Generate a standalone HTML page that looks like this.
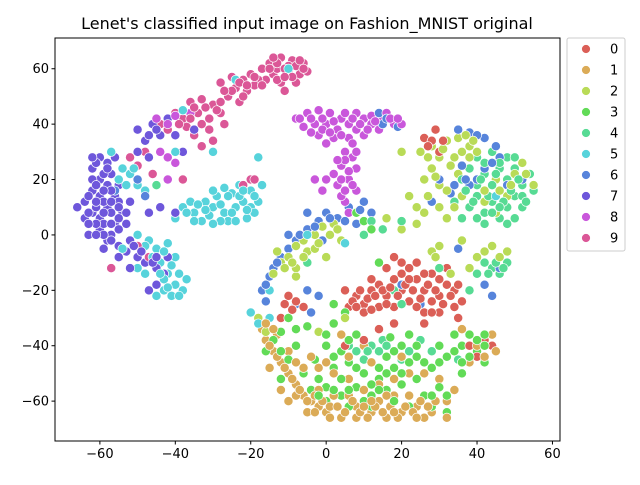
<!DOCTYPE html>
<html><head><meta charset="utf-8"><style>
html,body{margin:0;padding:0;background:#fff;}
svg text{font-family:"DejaVu Sans","Liberation Sans",sans-serif;fill:#000;}
</style></head><body>
<svg id="chart" width="640" height="480" xmlns="http://www.w3.org/2000/svg">
<rect width="640" height="480" fill="#fff"/>
<text x="307" y="29" text-anchor="middle" font-size="16">Lenet's classified input image on Fashion_MNIST original</text>
<g id="points"></g>
<rect x="55" y="38" width="505" height="403" fill="none" stroke="#000" stroke-width="1"/>
<g id="xticks"></g>
<g id="yticks"></g>
<g id="legend">
<rect x="567" y="38" width="58" height="213" rx="2" fill="#fff" stroke="#ccc"/>
</g>
</svg>
<script>
const classLabels=['0','1','2','3','4','5','6','7','8','9'];
const classColors=['#db5f57','#dbab57','#b9db57','#62db57','#57db94','#57d3db','#5784db','#6e57db','#c957db','#db5797'];
const xTicks=[-60,-40,-20,0,20,40,60];
const yTicks=[-60,-40,-20,0,20,40,60];
const c0=[[5,-20],[8,-22],[10,-25],[12,-20],[14,-18],[16,-22],[18,-16],[20,-14],[22,-12],[24,-16],[26,-20],[28,-24],[30,-22],[32,-18],[34,-20],[36,-24],[30,-28],[26,-28],[22,-24],[18,-26],[14,-26],[10,-28],[6,-26],[20,-20],[24,-10],[28,-14],[32,-12],[12,-16],[16,-12],[18,-8],[-10,-22],[-8,-24],[-6,-26],[-12,-30],[26,35],[28,34],[30,30],[29,38],[42,-38],[44,-40],[40,-44],[38,-40],[5,-40],[10,-38],[14,-34],[18,-32],[26,-32],[35,-30]];
const e0=[[7,-24],[9,-20],[11,-23],[13,-22],[15,-20],[17,-19],[19,-22],[21,-18],[23,-20],[25,-23],[27,-18],[29,-20],[31,-25],[33,-22],[35,-18],[22,-16],[20,-10],[26,-14],[30,-16],[12,-27],[16,-25],[24,-26],[28,-28],[34,-26],[8,-26],[-9,-27],[-11,-25],[27,32],[31,34]];
const c1=[[-18,-30],[-17,-34],[-16,-38],[-14,-42],[-12,-46],[-10,-50],[-8,-54],[-6,-58],[-4,-60],[-2,-62],[0,-64],[4,-66],[8,-66],[12,-64],[16,-66],[20,-64],[24,-62],[28,-64],[32,-60],[34,-56],[30,-52],[26,-50],[22,-50],[18,-52],[14,-54],[10,-56],[6,-58],[2,-58],[-2,-56],[-6,-48],[-10,-42],[-13,-36],[-2,-48],[2,-50],[6,-52],[14,-60],[18,-58],[22,-58],[8,-62],[-5,-64],[-10,-60],[-12,-56],[10,-40],[6,-44],[12,-46],[40,-40],[42,-44],[44,-36],[38,-46],[36,-34],[45,-42],[-15,-48],[26,-66],[32,-66],[-8,-58],[4,-36],[0,-46],[-4,-44],[20,-44]];
const e1=[[-15,-40],[-13,-44],[-11,-48],[-9,-52],[-7,-56],[-5,-60],[-3,-58],[-1,-60],[1,-62],[3,-62],[5,-64],[7,-60],[9,-64],[11,-66],[13,-62],[15,-64],[17,-62],[19,-66],[21,-62],[23,-64],[25,-60],[27,-62],[29,-60],[16,-58],[12,-60],[-3,-64],[1,-66],[-8,-46],[-14,-34],[-16,-32],[10,-62],[18,-64],[24,-66]];
const c2=[[25,30],[28,32],[32,34],[35,35],[38,32],[30,28],[34,28],[28,24],[26,20],[30,18],[35,22],[40,30],[45,20],[48,14],[50,22],[52,26],[42,12],[36,14],[30,10],[32,6],[26,8],[22,14],[24,4],[20,2],[16,6],[-10,-8],[-8,-4],[-6,-2],[-3,0],[-1,3],[2,4],[-5,-6],[-12,-10],[-14,-14],[-8,-15],[4,-2],[-3,-5],[0,-8],[30,-4],[28,-6],[44,-4],[40,-8],[48,-6],[36,-2],[-18,-30],[-16,-35],[-2,-35],[5,-30],[-8,-12],[20,30],[45,8],[55,18],[33,-14],[38,-12]];
const e2=[[27,28],[31,31],[36,30],[33,25],[29,21],[32,16],[27,14],[24,10],[34,10],[38,28],[42,16],[46,16],[49,18],[53,22],[-9,-10],[-6,-8],[-2,-3],[1,0],[3,2],[-11,-12],[-13,-6],[29,-8],[42,-6],[46,-8],[37,36],[39,34]];
const c3=[[0,-40],[4,-42],[8,-36],[6,-46],[10,-50],[14,-52],[18,-48],[20,-40],[22,-36],[24,-44],[16,-44],[2,-48],[-2,-52],[-4,-56],[-6,-50],[0,-55],[4,-58],[8,-55],[12,-58],[16,-56],[20,-54],[24,-52],[28,-48],[32,-44],[36,-40],[38,-36],[40,-42],[42,-46],[34,-36],[30,-40],[26,-58],[28,-62],[32,-64],[30,-55],[-10,-30],[-12,-35],[-8,-40],[-10,-45],[-14,-38],[-16,-42],[-5,-33],[2,-32],[5,-28],[10,5],[12,2],[8,8],[2,-25],[-3,-45],[6,-62],[12,-62],[36,-50],[40,-38],[22,-62],[-12,-52],[14,-10],[0,-60],[17,-37],[42,-36]];
const e3=[[2,-44],[6,-38],[8,-48],[12,-54],[16,-50],[20,-50],[22,-46],[26,-46],[30,-46],[34,-42],[38,-44],[42,-40],[18,-42],[14,-48],[4,-52],[-2,-58],[2,-56],[6,-56],[10,-60],[14,-56],[18,-60],[-8,-34],[-12,-42],[0,-36],[28,-58],[32,-58],[36,-46],[24,-40]];
const c4=[[40,28],[44,30],[48,28],[50,24],[46,24],[42,22],[52,18],[50,14],[48,10],[44,12],[40,14],[38,10],[42,8],[46,6],[52,10],[55,16],[54,22],[38,24],[36,20],[40,18],[44,18],[48,20],[34,12],[36,6],[42,4],[50,6],[44,-12],[46,-14],[42,-10],[40,-14],[48,-10],[12,-40],[14,-42],[8,-42],[10,-45],[6,-40],[15,-38],[20,-45],[25,-38],[28,-42],[35,-45],[18,-20],[20,-25],[12,5],[15,2],[10,0],[20,5],[-45,18],[-5,-10],[30,-12],[38,-20]];
const e4=[[42,26],[46,26],[50,28],[52,14],[47,12],[43,14],[39,12],[41,20],[45,22],[49,16],[53,12],[51,20],[37,16],[46,10],[44,8],[40,6],[48,4],[43,-14],[45,-10],[47,-12],[16,-40],[11,-42],[22,-42]];
const c5=[[-47,-2],[-45,-5],[-42,-3],[-40,-8],[-44,-10],[-42,-14],[-40,-18],[-43,-20],[-45,-22],[-38,-20],[-37,-16],[-41,-22],[-48,-4],[-50,0],[-40,6],[-38,10],[-35,8],[-32,12],[-30,10],[-27,8],[-29,14],[-26,5],[-24,10],[-22,12],[-20,10],[-18,12],[-20,16],[-23,18],[-25,15],[-28,5],[-33,5],[-36,12],[-30,16],[-26,14],[-19,8],[-17,18],[-21,6],[-55,20],[-52,22],[-50,18],[-52,28],[-48,16],[-54,24],[-57,30],[-40,30],[-38,45],[-18,28],[-55,-8],[-50,-12],[-48,-14],[-54,-5],[-20,-28],[-15,-30],[-18,-32],[-15,-20],[5,-3],[-5,0],[-10,60],[45,14],[-30,30],[-24,56]];
const e5=[[-46,-8],[-43,-6],[-41,-11],[-43,-16],[-39,-14],[-42,-19],[-39,-22],[-44,-14],[-37,8],[-34,11],[-31,7],[-28,11],[-25,8],[-23,14],[-21,9],[-19,14],[-22,16],[-27,17],[-32,9],[-35,5],[-30,4],[-24,5],[-53,18],[-51,24]];
const c6=[[-5,2],[-2,5],[0,8],[3,6],[6,10],[10,12],[12,8],[8,4],[-8,-2],[-10,-5],[-12,-8],[-15,-15],[-14,-12],[-17,-20],[-16,-24],[-5,-20],[-2,-22],[-8,-25],[15,40],[17,42],[19,39],[14,44],[35,38],[38,37],[42,35],[45,32],[40,20],[38,18],[42,24],[46,28],[33,15],[36,25],[48,18],[52,20],[42,-18],[44,-22],[46,-12],[35,-5],[20,-18],[25,-25],[-50,20],[-48,14],[-56,16],[30,20],[28,12],[-10,0],[-5,8],[-1,-2],[-4,-28]];
const e6=[[-3,3],[1,6],[5,5],[9,9],[-7,0],[-13,-10],[-16,-18],[37,20],[44,26],[34,18],[16,42],[40,36]];
const c7=[[-64,12],[-62,16],[-60,20],[-62,24],[-60,28],[-58,26],[-57,22],[-55,18],[-56,14],[-58,10],[-60,6],[-62,8],[-64,6],[-60,2],[-58,-2],[-56,4],[-54,8],[-52,12],[-57,0],[-55,-4],[-53,-6],[-50,-8],[-52,-2],[-60,14],[-62,20],[-58,18],[-56,28],[-66,10],[-63,0],[-59,-5],[-48,-10],[-45,-12],[-42,-8],[-45,-18],[-44,10],[-40,8],[-47,8],[-50,38],[-46,40],[-44,36],[-48,34],[-42,42],[-40,36],[-38,30],[-35,38],[-50,30],[-47,28],[-47,-20],[-43,-14],[-52,-12],[-55,-8]];
const e7=[[-63,14],[-61,18],[-59,22],[-61,26],[-59,12],[-57,16],[-55,12],[-57,8],[-59,4],[-61,10],[-63,8],[-61,4],[-59,0],[-57,-2],[-55,2],[-53,4],[-55,10],[-53,8],[-59,8],[-57,4],[-61,12],[-63,4],[-57,12],[-59,16],[-61,0],[-55,6],[-58,24],[-62,28],[-49,-6],[-51,-4],[-46,-10],[-45,-8],[-45,38],[-47,36]];
const c8=[[-5,44],[-2,45],[1,44],[4,42],[-3,40],[0,40],[3,38],[-6,39],[6,40],[8,38],[10,42],[12,43],[15,42],[18,40],[14,38],[10,36],[2,35],[-2,36],[6,35],[5,30],[7,28],[4,25],[6,20],[3,18],[8,16],[5,12],[2,22],[8,24],[4,14],[6,8],[-3,20],[0,20],[-1,16],[12,40],[16,44],[20,40],[-44,30],[-42,28],[-42,20],[-40,26],[-45,42],[-42,40],[-40,43],[-36,44],[8,44],[-8,42],[0,33]];
const e8=[[-4,42],[-1,42],[2,41],[5,44],[7,42],[9,40],[11,38],[13,41],[-1,38],[1,37],[4,36],[-4,37],[7,33],[5,27],[6,23],[4,20],[7,18],[5,16],[3,27],[8,30],[17,42],[19,42],[-7,42]];
const c9=[[-15,62],[-12,64],[-9,63],[-6,62],[-14,58],[-10,59],[-7,58],[-12,55],[-8,55],[-16,56],[-5,59],[-10,61],[-13,60],[-17,60],[-11,52],[-26,50],[-24,53],[-22,56],[-20,58],[-18,56],[-21,52],[-25,57],[-28,55],[-23,48],[-19,54],[-36,48],[-33,49],[-30,47],[-34,44],[-38,42],[-31,42],[-28,44],[-42,38],[-35,36],[-30,34],[-27,40],[-40,44],[-44,40],[-33,32],[-37,39],[-52,28],[-48,30],[-50,25],[-46,22],[-38,20],[-20,20],[-22,18],[-19,20],[-55,2],[-50,-4],[-47,-8],[-57,-12],[-17,54]];
const e9=[[-13,62],[-11,60],[-8,61],[-6,60],[-9,57],[-13,56],[-15,60],[-11,57],[-7,63],[-14,64],[-23,55],[-21,54],[-19,57],[-25,52],[-27,52],[-22,50],[-32,46],[-35,46],[-29,45],[-33,40],[-36,42],[-39,40],[-31,38],[-28,48]];
const series=[c0.concat(e0),c1.concat(e1),c2.concat(e2),c3.concat(e3),c4.concat(e4),c5.concat(e5),c6.concat(e6),c7.concat(e7),c8.concat(e8),c9.concat(e9)];

const NS='http://www.w3.org/2000/svg';
const X0=55,X1=560,Y0=38,Y1=441,XMIN=-71.9,XMAX=62,YMIN=-74.4,YMAX=71.1;
function sx(v){return X0+(v-XMIN)/(XMAX-XMIN)*(X1-X0);}
function sy(v){return Y1-(v-YMIN)/(YMAX-YMIN)*(Y1-Y0);}
function mk(t,a){const e=document.createElementNS(NS,t);for(const k in a)e.setAttribute(k,a[k]);return e;}

const pg=document.getElementById('points');
let maxN=0;series.forEach(s=>{if(s.length>maxN)maxN=s.length;});
for(let i=0;i<maxN;i++){
  for(let c=0;c<series.length;c++){
    const p=series[c][i];if(!p)continue;
    const el=mk('circle',{cx:sx(p[0]),cy:sy(p[1]),r:4.6,fill:classColors[c],stroke:'#fff','stroke-width':0.7});
    
    
    pg.appendChild(el);
  }
}
const xg=document.getElementById('xticks');
xTicks.forEach(v=>{
  const x=sx(v);
  const l=mk('line',{x1:x,x2:x,y1:Y1,y2:Y1+3.5,stroke:'#000'});
  
  
  xg.appendChild(l);
  const t=mk('text',{x:x,y:Y1+17,'text-anchor':'middle','font-size':'13'});
  t.textContent=v<0?'\u2212'+Math.abs(v):String(v);
  
  
  xg.appendChild(t);
});
const yg=document.getElementById('yticks');
yTicks.forEach(v=>{
  const y=sy(v);
  const l=mk('line',{x1:X0-3.5,x2:X0,y1:y,y2:y,stroke:'#000'});
  
  
  yg.appendChild(l);
  const t=mk('text',{x:X0-6,y:y+4.5,'text-anchor':'end','font-size':'13'});
  t.textContent=v<0?'\u2212'+Math.abs(v):String(v);
  
  
  yg.appendChild(t);
});
const lg=document.getElementById('legend');
classLabels.forEach((lab,i)=>{
  const y=49+i*21;
  const c=mk('circle',{cx:586,cy:y,r:4.5,fill:classColors[i],stroke:'#fff','stroke-width':0.8});
  
  
  lg.appendChild(c);
  const t=mk('text',{x:610,y:y+4.5,'font-size':'13'});
  t.textContent=lab;
  
  
  lg.appendChild(t);
});
</script>
</body></html>
